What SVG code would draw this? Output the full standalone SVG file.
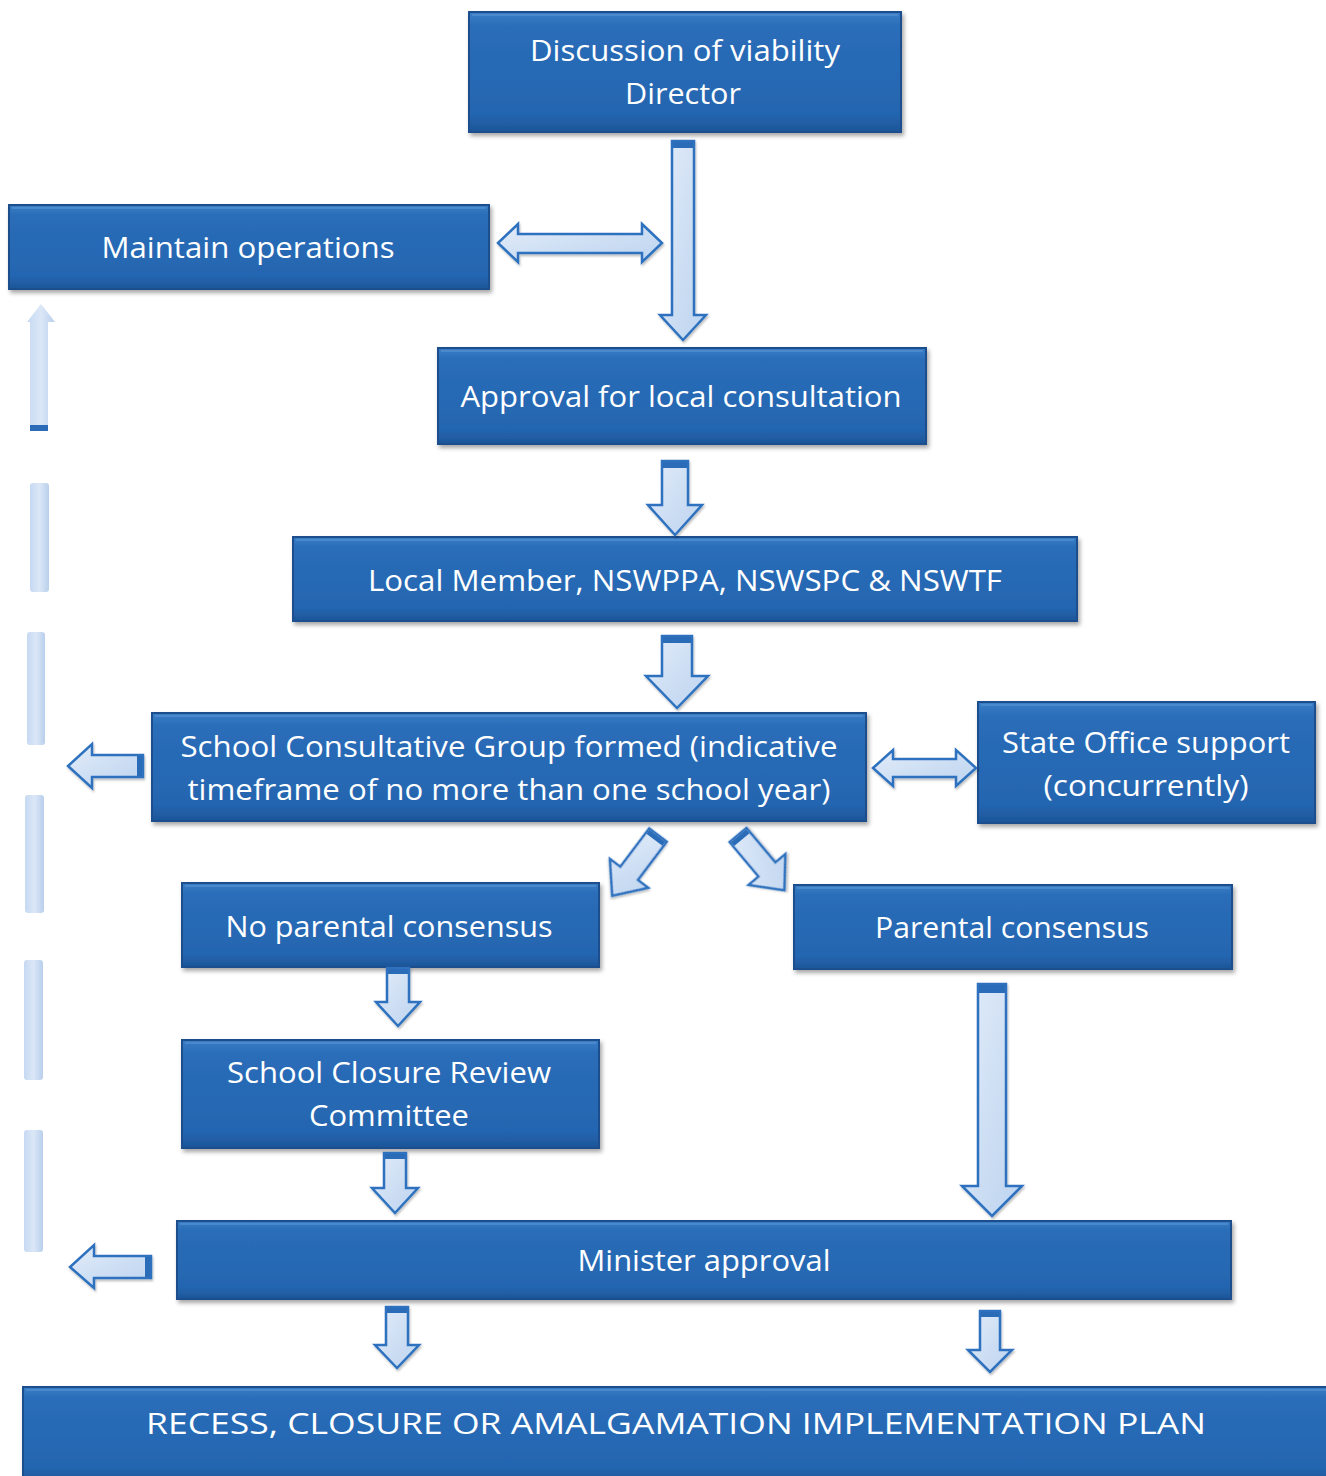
<svg xmlns="http://www.w3.org/2000/svg" width="1326" height="1476" viewBox="0 0 1326 1476">
<defs>
<linearGradient id="boxg" x1="0" y1="0" x2="0" y2="1">
<stop offset="0" stop-color="#3a7ec6"/>
<stop offset="0.12" stop-color="#2a6db8"/>
<stop offset="0.85" stop-color="#2465b0"/>
<stop offset="1" stop-color="#1d5598"/>
</linearGradient>
<linearGradient id="arrg" x1="0" y1="0" x2="1" y2="1">
<stop offset="0" stop-color="#e2ecf9"/>
<stop offset="1" stop-color="#bcd3ef"/>
</linearGradient>
<linearGradient id="fbg" x1="0" y1="0" x2="1" y2="0">
<stop offset="0" stop-color="#c6d9f2"/>
<stop offset="0.5" stop-color="#dbe7f7"/>
<stop offset="1" stop-color="#b9cfec"/>
</linearGradient>
<filter id="sh" x="-5%" y="-10%" width="110%" height="130%">
<feDropShadow dx="2" dy="3" stdDeviation="2" flood-color="#000" flood-opacity="0.35"/>
</filter>
<filter id="ash" x="-20%" y="-20%" width="140%" height="140%">
<feDropShadow dx="1" dy="2" stdDeviation="1.2" flood-color="#000" flood-opacity="0.25"/>
</filter>
</defs>
<style>
.box{fill:url(#boxg);stroke:#1a4e8c;stroke-width:2;filter:url(#sh)}
.hl{fill:none;stroke:#5d97d6;stroke-width:1.5;opacity:0.7}
.t{fill:#ffffff;font-family:"Open Sans","Noto Sans","Liberation Sans",sans-serif;font-size:29px;text-anchor:middle}
.arr{fill:url(#arrg);stroke:#2d72bf;stroke-width:2.5;stroke-linejoin:miter;filter:url(#ash)}
.cap{fill:#2a6cb8}
.fb{fill:url(#fbg)}
</style>
<rect width="1326" height="1476" fill="#ffffff"/>

<g id="n1">
<rect class="box" x="469" y="12" width="432" height="120"/>
<path class="hl" d="M472 15 H898"/>
<text class="t" x="685" y="61" textLength="310" lengthAdjust="spacingAndGlyphs">Discussion of viability</text>
<text class="t" x="683" y="104" textLength="116" lengthAdjust="spacingAndGlyphs">Director</text>
</g>
<g id="n2">
<rect class="box" x="9" y="205" width="480" height="84"/>
<path class="hl" d="M12 208 H486"/>
<text class="t" x="248" y="258" textLength="293" lengthAdjust="spacingAndGlyphs">Maintain operations</text>
</g>
<g id="n3">
<rect class="box" x="438" y="348" width="488" height="96"/>
<path class="hl" d="M441 351 H923"/>
<text class="t" x="681" y="407" textLength="441" lengthAdjust="spacingAndGlyphs">Approval for local consultation</text>
</g>
<g id="n4">
<rect class="box" x="293" y="537" width="784" height="84"/>
<path class="hl" d="M296 540 H1074"/>
<text class="t" x="685" y="591" textLength="634" lengthAdjust="spacingAndGlyphs">Local Member, NSWPPA, NSWSPC &amp; NSWTF</text>
</g>
<g id="n5">
<rect class="box" x="152" y="713" width="714" height="108"/>
<path class="hl" d="M155 716 H863"/>
<text class="t" x="509" y="757" textLength="657" lengthAdjust="spacingAndGlyphs">School Consultative Group formed (indicative</text>
<text class="t" x="509" y="800" textLength="643" lengthAdjust="spacingAndGlyphs">timeframe of no more than one school year)</text>
</g>
<g id="n6">
<rect class="box" x="978" y="702" width="337" height="121"/>
<path class="hl" d="M981 705 H1312"/>
<text class="t" x="1146" y="753" textLength="288" lengthAdjust="spacingAndGlyphs">State Office support</text>
<text class="t" x="1146" y="796" textLength="205" lengthAdjust="spacingAndGlyphs">(concurrently)</text>
</g>
<g id="n7">
<rect class="box" x="182" y="883" width="417" height="84"/>
<path class="hl" d="M185 886 H596"/>
<text class="t" x="389" y="937" textLength="327" lengthAdjust="spacingAndGlyphs">No parental consensus</text>
</g>
<g id="n8">
<rect class="box" x="794" y="885" width="438" height="84"/>
<path class="hl" d="M797 888 H1229"/>
<text class="t" x="1012" y="938" textLength="274" lengthAdjust="spacingAndGlyphs">Parental consensus</text>
</g>
<g id="n9">
<rect class="box" x="182" y="1040" width="417" height="108"/>
<path class="hl" d="M185 1043 H596"/>
<text class="t" x="389" y="1083" textLength="324" lengthAdjust="spacingAndGlyphs">School Closure Review</text>
<text class="t" x="389" y="1126" textLength="160" lengthAdjust="spacingAndGlyphs">Committee</text>
</g>
<g id="n10">
<rect class="box" x="177" y="1221" width="1054" height="78"/>
<path class="hl" d="M180 1224 H1228"/>
<text class="t" x="704" y="1271" textLength="253" lengthAdjust="spacingAndGlyphs">Minister approval</text>
</g>
<g id="n11">
<rect class="box" x="23" y="1387" width="1310" height="95"/>
<path class="hl" d="M26 1390 H1326"/>
<text class="t" x="676" y="1434" textLength="1060" lengthAdjust="spacingAndGlyphs">RECESS, CLOSURE OR AMALGAMATION IMPLEMENTATION PLAN</text>
</g>

<g id="connectors">
<path class="arr" d="M672 141 H694 V315 H706 L683 340 L660 315 H672 Z"/>
<rect class="cap" x="673" y="142" width="20" height="6"/>
<path class="arr" d="M498 243 L518 224 V234 H642 V224 L662 243 L642 262 V253 H518 V262 Z"/>
<path class="arr" d="M662 461 H688 V505 H702 L675 535 L648 505 H662 Z"/>
<rect class="cap" x="663" y="462" width="24" height="6"/>
<path class="arr" d="M662 636 H692 V676 H708 L677 708 L646 676 H662 Z"/>
<rect class="cap" x="663" y="637" width="28" height="6"/>
<path class="arr" d="M143 755 V777 H92 V788 L68 766 L92 744 V755 Z"/>
<rect class="cap" x="137" y="756" width="5" height="20"/>
<path class="arr" d="M873 768 L893 750 V759 H956 V750 L976 768 L956 786 V777 H893 V786 Z"/>
<g transform="translate(658,835) rotate(37)">
<path class="arr" d="M-11 0 H11 V48 H24 L0 76 L-24 48 H-11 Z"/>
<rect class="cap" x="-10" y="1" width="20" height="5"/>
</g>
<g transform="translate(738,835) rotate(-40)">
<path class="arr" d="M-11 0 H11 V45 H24 L0 72 L-24 45 H-11 Z"/>
<rect class="cap" x="-10" y="1" width="20" height="5"/>
</g>
<path class="arr" d="M387 968 H409 V1002 H420 L398 1026 L376 1002 H387 Z"/>
<rect class="cap" x="388" y="969" width="20" height="5"/>
<path class="arr" d="M978 984 H1006 V1186 H1022 L992 1216 L962 1186 H978 Z"/>
<rect class="cap" x="979" y="985" width="26" height="8"/>
<path class="arr" d="M384 1153 H406 V1188 H418 L395 1213 L372 1188 H384 Z"/>
<rect class="cap" x="385" y="1154" width="20" height="5"/>
<path class="arr" d="M151 1256 V1278 H94 V1288 L70 1267 L94 1245 V1256 Z"/>
<rect class="cap" x="145" y="1257" width="5" height="20"/>
<path class="arr" d="M386 1307 H408 V1345 H419 L397 1368 L375 1345 H386 Z"/>
<rect class="cap" x="387" y="1308" width="20" height="5"/>
<path class="arr" d="M980 1311 H1000 V1350 H1012 L990 1372 L968 1350 H980 Z"/>
<rect class="cap" x="981" y="1312" width="18" height="5"/>

<path class="fb" d="M30 430 V322 H27 L41 304 L55 322 H48 V430 Z"/>
<rect class="cap" x="30" y="425" width="18" height="6"/>
<rect class="fb" x="30" y="483" width="19" height="109" rx="3"/>
<rect class="fb" x="27" y="632" width="18" height="113" rx="3"/>
<rect class="fb" x="25" y="795" width="19" height="118" rx="3"/>
<rect class="fb" x="24" y="960" width="19" height="120" rx="3"/>
<rect class="fb" x="24" y="1130" width="19" height="122" rx="3"/>
</g>
</svg>
